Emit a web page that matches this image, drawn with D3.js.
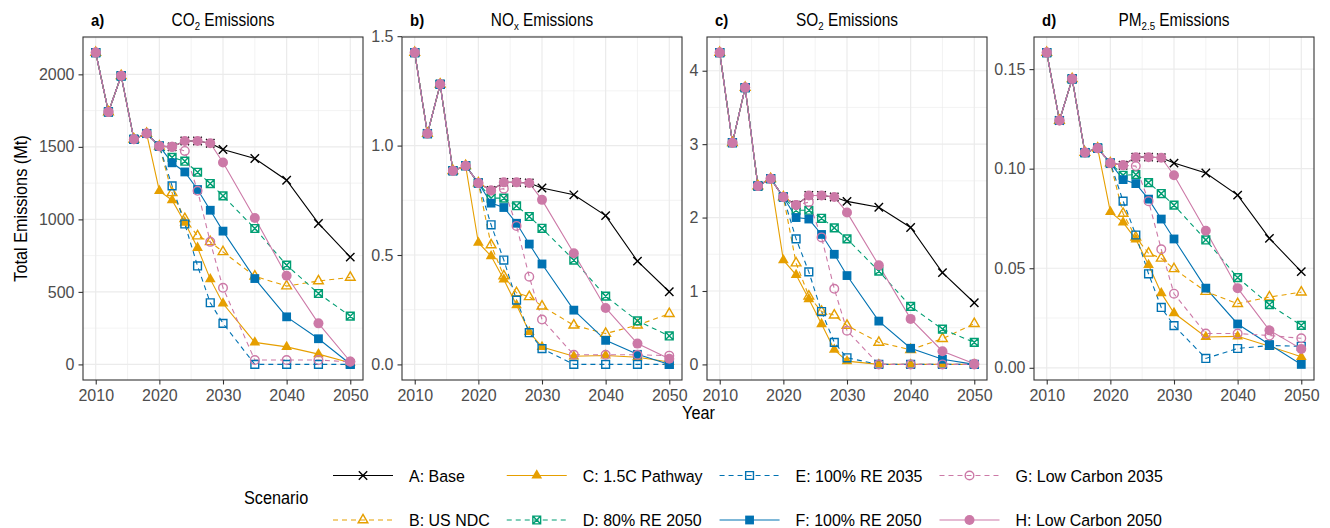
<!DOCTYPE html>
<html>
<head>
<meta charset="utf-8">
<script src="https://cdn.jsdelivr.net/npm/d3@7"></script>
<style>
body { margin: 0; background: #fff; }
text { font-family: "Liberation Sans Narrow", "Arial Narrow", "Liberation Sans", Arial, sans-serif; }
</style>
</head>
<body>
<svg id="chart" width="1330" height="528"></svg>
<script>
// years on the x axis
var years = [2010, 2012, 2014, 2016, 2018, 2020, 2022, 2024, 2026, 2028, 2030, 2035, 2040, 2045, 2050];

var scenarioNames = ["A: Base", "B: US NDC", "C: 1.5C Pathway", "D: 80% RE 2050",
                     "E: 100% RE 2035", "F: 100% RE 2050", "G: Low Carbon 2035", "H: Low Carbon 2050"];
var scenarioColors = ["#000000", "#E69F00", "#E69F00", "#009E73", "#0072B2", "#0072B2", "#CC79A7", "#CC79A7"];
var scenarioDashed = [false, true, false, true, true, false, true, false];
var scenarioShapes = ["cross", "triOpen", "triFilled", "squareCross", "squareOpen", "squareFilled", "circleOpen", "circleFilled"];

// 2010-2018, shared by every scenario
var co2History = [2150, 1741, 1990, 1552, 1592];
var noxHistory = [1.425, 1.055, 1.280, 0.885, 0.908];
var so2History = [4.247, 3.02, 3.77, 2.43, 2.53];
var pm25History = [0.1583, 0.1242, 0.1451, 0.1081, 0.1103];

// 2020-2050 per scenario, rows A..H
var co2Future = [
  [1505, 1500, 1540, 1540, 1525, 1482, 1420, 1270, 972, 740],
  [1505, 1183, 1005, 885, 845, 776, 608, 540, 575, 600],
  [1196, 1132, 978, 804, 588, 420, 152, 121, 71, 12],
  [1505, 1427, 1401, 1325, 1247, 1162, 937, 684, 489, 333],
  [1505, 1231, 968, 679, 425, 283, 0, 0, 0, 0],
  [1505, 1390, 1327, 1206, 1063, 919, 592, 328, 177, 3],
  [1505, 1500, 1472, 1197, 845, 528, 30, 30, 30, 18],
  [1505, 1500, 1540, 1540, 1525, 1392, 1010, 611, 283, 20]
];
var noxFuture = [
  [0.829, 0.795, 0.832, 0.832, 0.829, 0.806, 0.775, 0.680, 0.472, 0.332],
  [0.829, 0.546, 0.404, 0.327, 0.309, 0.266, 0.179, 0.141, 0.179, 0.232],
  [0.556, 0.495, 0.388, 0.271, 0.148, 0.080, 0.037, 0.041, 0.033, 0.011],
  [0.829, 0.760, 0.760, 0.725, 0.676, 0.622, 0.477, 0.312, 0.199, 0.130],
  [0.829, 0.638, 0.477, 0.294, 0.145, 0.072, 0, 0, 0, 0],
  [0.829, 0.737, 0.717, 0.645, 0.550, 0.459, 0.248, 0.110, 0.046, 0],
  [0.829, 0.795, 0.803, 0.633, 0.401, 0.205, 0.044, 0.044, 0.044, 0.040],
  [0.829, 0.795, 0.832, 0.832, 0.829, 0.752, 0.508, 0.258, 0.095, 0.026]
];
var so2Future = [
  [2.28, 2.17, 2.30, 2.30, 2.28, 2.22, 2.14, 1.865, 1.25, 0.84],
  [2.28, 1.38, 0.93, 0.72, 0.67, 0.53, 0.30, 0.20, 0.35, 0.555],
  [1.42, 1.22, 0.89, 0.55, 0.20, 0.045, 0, 0, 0, 0],
  [2.28, 2.10, 2.10, 1.99, 1.86, 1.71, 1.27, 0.79, 0.48, 0.30],
  [2.28, 1.71, 1.26, 0.72, 0.30, 0.09, 0, 0, 0, 0],
  [2.28, 2.00, 1.98, 1.77, 1.50, 1.21, 0.59, 0.22, 0.07, 0],
  [2.28, 2.17, 2.21, 1.73, 1.03, 0.46, 0, 0, 0, 0],
  [2.28, 2.17, 2.30, 2.30, 2.28, 2.07, 1.35, 0.62, 0.18, 0.01]
];
var pm25Future = [
  [0.1028, 0.1017, 0.1058, 0.1058, 0.1055, 0.1028, 0.0978, 0.0867, 0.0650, 0.0483],
  [0.1028, 0.0775, 0.0655, 0.0575, 0.0550, 0.0497, 0.0383, 0.0322, 0.0355, 0.0380],
  [0.0783, 0.0730, 0.0645, 0.0517, 0.0375, 0.0275, 0.0155, 0.0158, 0.0108, 0.0055],
  [0.1028, 0.0967, 0.0970, 0.0930, 0.0875, 0.0817, 0.0642, 0.0453, 0.0317, 0.0213],
  [0.1028, 0.0837, 0.0667, 0.0472, 0.0303, 0.0212, 0.0047, 0.0097, 0.0112, 0.0108],
  [0.1028, 0.0945, 0.0925, 0.0847, 0.0747, 0.0647, 0.0400, 0.0220, 0.0117, 0.0017],
  [0.1028, 0.1017, 0.1013, 0.0837, 0.0595, 0.0372, 0.0172, 0.0172, 0.0162, 0.0148],
  [0.1028, 0.1017, 0.1058, 0.1058, 0.1055, 0.0967, 0.0688, 0.0400, 0.0188, 0.0095]
];

// axis ticks
var xTicks = [2010, 2020, 2030, 2040, 2050];
var xMinor = [2015, 2025, 2035, 2045];
var co2Ticks = [0, 500, 1000, 1500, 2000], co2Labels = ["0", "500", "1000", "1500", "2000"];
var noxTicks = [0, 0.5, 1, 1.5], noxLabels = ["0.0", "0.5", "1.0", "1.5"];
var so2Ticks = [0, 1, 2, 3, 4], so2Labels = ["0", "1", "2", "3", "4"];
var pm25Ticks = [0, 0.05, 0.1, 0.15], pm25Labels = ["0.00", "0.05", "0.10", "0.15"];

var panelTags = ["a)", "b)", "c)", "d)"];
var panelTitles = [["CO", "2", " Emissions"], ["NO", "x", " Emissions"], ["SO", "2", " Emissions"], ["PM", "2.5", " Emissions"]];

var panels = [
  { history: co2History, future: co2Future, ticks: co2Ticks, labels: co2Labels },
  { history: noxHistory, future: noxFuture, ticks: noxTicks, labels: noxLabels },
  { history: so2History, future: so2Future, ticks: so2Ticks, labels: so2Labels },
  { history: pm25History, future: pm25Future, ticks: pm25Ticks, labels: pm25Labels }
];

var svg = d3.select("#chart");
var panelLeft = [83, 402, 707, 1034];
var panelWidth = 280, panelTop = 37, panelBottom = 380;
var squeeze = 0.88; // the original type is a narrow face
var legendSqueeze = 0.94;

function shapePath(shape) {
  var p = d3.path();
  if (shape == "cross") {
    var r = 4.2;
    p.moveTo(-r, -r); p.lineTo(r, r); p.moveTo(-r, r); p.lineTo(r, -r);
  } else if (shape == "triOpen" || shape == "triFilled") {
    var t = shape == "triFilled" ? 6.2 : 5.6;
    p.moveTo(0, -t); p.lineTo(t * 0.866, t * 0.5); p.lineTo(-t * 0.866, t * 0.5); p.closePath();
  } else if (shape == "squareOpen" || shape == "squareCross") {
    var h = 3.9;
    p.rect(-h, -h, 2 * h, 2 * h);
    if (shape == "squareCross") { p.moveTo(-h, -h); p.lineTo(h, h); p.moveTo(-h, h); p.lineTo(h, -h); }
  } else if (shape == "squareFilled") {
    p.rect(-4.4, -4.4, 8.8, 8.8);
  } else if (shape == "circleOpen") {
    p.arc(0, 0, 4.3, 0, 2 * Math.PI);
  } else {
    p.arc(0, 0, 5, 0, 2 * Math.PI);
  }
  return p.toString();
}

function drawMarker(g, i) {
  var shape = scenarioShapes[i], col = scenarioColors[i];
  var filled = shape == "triFilled" || shape == "squareFilled" || shape == "circleFilled";
  g.append("path")
    .attr("d", shapePath(shape))
    .attr("fill", filled ? col : "none")
    .attr("stroke", filled ? "none" : col)
    .attr("stroke-width", 1.4);
}

panels.forEach(function (p, k) {
  var x0 = panelLeft[k];
  var x = d3.scaleLinear()
    .domain([d3.min(years) - 2, d3.max(years) + 2])
    .range([x0, x0 + panelWidth]);
  var all = p.history.concat(d3.merge(p.future));
  var lo = d3.min(all), hi = d3.max(all), pad = (hi - lo) * 0.05;
  var y = d3.scaleLinear().domain([lo - pad, hi + pad]).range([panelBottom, panelTop]);

  var g = svg.append("g");
  g.append("rect")
    .attr("x", x0).attr("y", panelTop)
    .attr("width", panelWidth).attr("height", panelBottom - panelTop)
    .attr("fill", "#fff");

  // minor grid
  var step = p.ticks[1] - p.ticks[0];
  var yMinor = p.ticks.map(function (v) { return v + step / 2; })
    .filter(function (v) { return v >= y.domain()[0] && v <= y.domain()[1]; });
  g.selectAll(".ymin").data(yMinor).enter().append("line")
    .attr("x1", x0).attr("x2", x0 + panelWidth)
    .attr("y1", function (d) { return y(d); }).attr("y2", function (d) { return y(d); })
    .attr("stroke", "#EBEBEB").attr("stroke-width", 0.6);
  g.selectAll(".xmin").data(xMinor).enter().append("line")
    .attr("y1", panelTop).attr("y2", panelBottom)
    .attr("x1", function (d) { return x(d); }).attr("x2", function (d) { return x(d); })
    .attr("stroke", "#EBEBEB").attr("stroke-width", 0.6);
  // major grid
  g.selectAll(".ymaj").data(p.ticks).enter().append("line")
    .attr("x1", x0).attr("x2", x0 + panelWidth)
    .attr("y1", function (d) { return y(d); }).attr("y2", function (d) { return y(d); })
    .attr("stroke", "#EBEBEB").attr("stroke-width", 1.2);
  g.selectAll(".xmaj").data(xTicks).enter().append("line")
    .attr("y1", panelTop).attr("y2", panelBottom)
    .attr("x1", function (d) { return x(d); }).attr("x2", function (d) { return x(d); })
    .attr("stroke", "#EBEBEB").attr("stroke-width", 1.2);

  var series = p.future.map(function (f, i) {
    var vals = p.history.concat(f);
    return { i: i, pts: years.map(function (yr, n) { return { year: yr, v: vals[n] }; }) };
  });

  var line = d3.line().x(function (d) { return x(d.year); }).y(function (d) { return y(d.v); });

  g.selectAll(".series").data(series).enter().append("path")
    .attr("d", function (s) { return line(s.pts); })
    .attr("fill", "none")
    .attr("stroke", function (s) { return scenarioColors[s.i]; })
    .attr("stroke-width", 1.1)
    .attr("stroke-dasharray", function (s) { return scenarioDashed[s.i] ? "5,4" : null; });

  series.forEach(function (s) {
    s.pts.forEach(function (d) {
      var m = g.append("g").attr("transform", "translate(" + x(d.year) + "," + y(d.v) + ")");
      drawMarker(m, s.i);
    });
  });

  g.append("rect")
    .attr("x", x0).attr("y", panelTop)
    .attr("width", panelWidth).attr("height", panelBottom - panelTop)
    .attr("fill", "none").attr("stroke", "#333").attr("stroke-width", 1.1);

  var yAxis = g.append("g").attr("transform", "translate(" + x0 + ",0)")
    .call(d3.axisLeft(y).tickValues(p.ticks)
      .tickFormat(function (d, n) { return p.labels[n]; })
      .tickSize(4.5).tickPadding(4));
  var xAxis = g.append("g").attr("transform", "translate(0," + panelBottom + ")")
    .call(d3.axisBottom(x).tickValues(xTicks).tickFormat(d3.format("d"))
      .tickSize(4.5).tickPadding(5));
  [yAxis, xAxis].forEach(function (a) {
    a.select(".domain").remove();
    a.selectAll(".tick line").attr("stroke", "#333").attr("stroke-width", 1.1);
    a.selectAll(".tick text").attr("fill", "#4D4D4D").style("font-size", "16px");
  });

  // strip title
  g.append("text").attr("transform", "translate(" + (x0 + 8) + ",26) scale(" + squeeze + ",1)")
    .style("font-size", "17px").style("font-weight", "bold").text(panelTags[k]);
  var t = g.append("text")
    .attr("transform", "translate(" + (x0 + panelWidth / 2) + ",26) scale(" + squeeze + ",1)")
    .attr("text-anchor", "middle").style("font-size", "17.5px");
  t.append("tspan").text(panelTitles[k][0]);
  t.append("tspan").attr("dy", 4).style("font-size", "11px").text(panelTitles[k][1]);
  t.append("tspan").attr("dy", -4).text(panelTitles[k][2]);
});

// axis titles
svg.append("text")
  .attr("transform", "translate(27," + (panelTop + panelBottom) / 2 + ") rotate(-90) scale(" + squeeze + ",1)")
  .attr("text-anchor", "middle").style("font-size", "18.5px")
  .text("Total Emissions (Mt)");
svg.append("text")
  .attr("transform", "translate(" + (panelLeft[0] + panelLeft[3] + panelWidth) / 2 + ",419) scale(" + squeeze + ",1)")
  .attr("text-anchor", "middle").style("font-size", "18.5px").text("Year");

// legend
var legend = svg.append("g");
legend.append("text").attr("transform", "translate(244,504) scale(" + squeeze + ",1)")
  .style("font-size", "18.5px").text("Scenario");
var rowY = [475.5, 520];
var keyX = 333;
for (var c = 0; c < 4; c++) {
  var widest = 0;
  for (var r = 0; r < 2; r++) {
    var i = c * 2 + r;
    var ky = rowY[r];
    legend.append("line")
      .attr("x1", keyX).attr("x2", keyX + 60).attr("y1", ky).attr("y2", ky)
      .attr("stroke", scenarioColors[i]).attr("stroke-width", 1.1)
      .attr("stroke-dasharray", scenarioDashed[i] ? "5,4" : null);
    var m = legend.append("g").attr("transform", "translate(" + (keyX + 30) + "," + ky + ")");
    drawMarker(m, i);
    var lt = legend.append("text")
      .attr("transform", "translate(" + (keyX + 76) + "," + (ky + 6) + ") scale(" + legendSqueeze + ",1)")
      .style("font-size", "17px").text(scenarioNames[i]);
    widest = Math.max(widest, lt.node().getComputedTextLength() * legendSqueeze);
  }
  keyX = keyX + 76 + widest + 17;
}
</script>
</body>
</html>
